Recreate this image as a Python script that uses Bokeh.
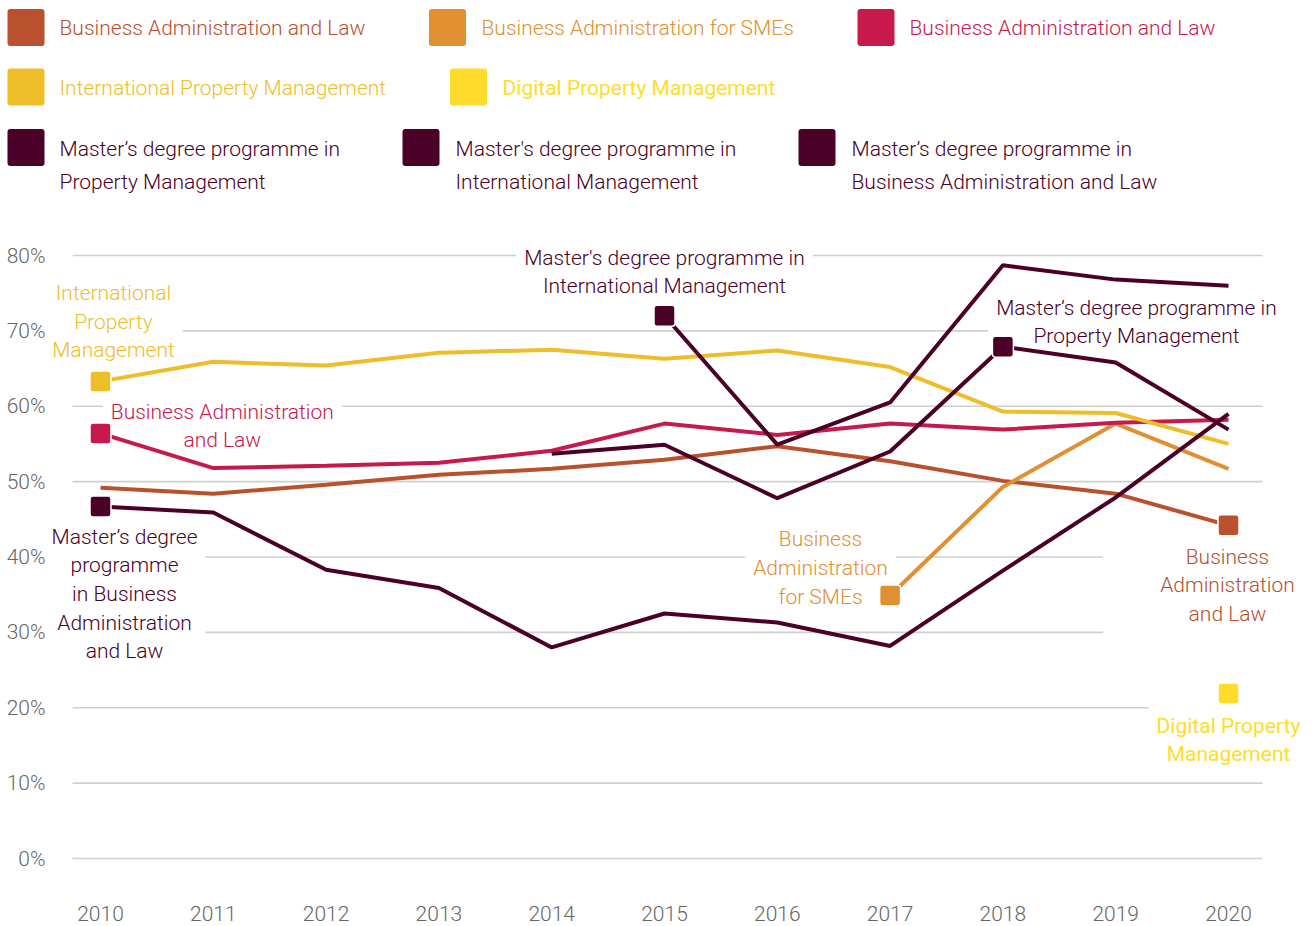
from bokeh.plotting import figure
from bokeh.models import Range1d, FixedTicker, PrintfTickFormatter
from bokeh.layouts import column
from bokeh.core.properties import value
from bokeh.embed import file_html
from bokeh.resources import INLINE

NaN = float("nan")

# ---------------- data ----------------
years = [2010, 2011, 2012, 2013, 2014, 2015, 2016, 2017, 2018, 2019, 2020]
ba_law = [49.2, 48.4, 49.6, 50.9, 51.7, 52.9, 54.7, 52.7, 50.1, 48.4, 44.2]
ba_smes = [NaN, NaN, NaN, NaN, NaN, NaN, NaN, 34.9, 49.3, 57.7, 51.7]
ba_law2 = [56.4, 51.8, 52.1, 52.5, 54.1, 57.7, 56.2, 57.7, 56.9, 57.8, 58.2]
int_prop = [63.3, 65.9, 65.4, 67.1, 67.5, 66.3, 67.4, 65.2, 59.3, 59.1, 55.0]
dig_prop = [NaN, NaN, NaN, NaN, NaN, NaN, NaN, NaN, NaN, NaN, 21.9]
ma_prop = [NaN, NaN, NaN, NaN, 53.7, 54.9, 47.8, 54.0, 67.9, 65.8, 56.9]
ma_intl = [NaN, NaN, NaN, NaN, NaN, 72.0, 54.9, 60.5, 78.7, 76.8, 76.0]
ma_bal = [46.7, 45.9, 38.3, 35.9, 28.0, 32.5, 31.3, 28.2, 38.2, 47.9, 59.0]

y_ticks = [0, 10, 20, 30, 40, 50, 60, 70, 80]

legend_names = [
    "Business Administration and Law",
    "Business Administration for SMEs",
    "Business Administration and Law",
    "International Property Management",
    "Digital Property Management",
    "Master\u2019s degree programme in\nProperty Management",
    "Master's degree programme in\nInternational Management",
    "Master\u2019s degree programme in\nBusiness Administration and Law",
]

# ---------------- styles ----------------
FONT = "Roboto Light"
FONT_REG = "Roboto"
RUST = "#B9502E"
ORANGE = "#E08F31"
CRIMSON = "#C8194C"
YELLOW = "#EDBD2A"
DIGITAL = "#FFDC2B"
DARK = "#4B0027"
AXIS_TXT = "#666666"

series = [
    # values, colour, marker year
    (ba_law, RUST, 2020),
    (ba_smes, ORANGE, 2017),
    (ba_law2, CRIMSON, 2010),
    (int_prop, YELLOW, 2010),
    (dig_prop, DIGITAL, 2020),
    (ma_prop, DARK, 2018),
    (ma_intl, DARK, 2015),
    (ma_bal, DARK, 2010),
]

W = 1315
TOP_H = 230
TOTAL_H = 926
LEFT = 52

# ---------------- legend figure (screen-pixel coordinates) ----------------
lg = figure(width=W, height=TOP_H, x_range=Range1d(0, W), y_range=Range1d(TOP_H, 0),
            output_backend="svg", toolbar_location=None, x_axis_type=None, y_axis_type=None,
            min_border=0, min_border_left=0, min_border_right=0, min_border_top=0,
            min_border_bottom=0, outline_line_color=None, frame_align=False)
lg.xgrid.visible = False
lg.ygrid.visible = False

legend_layout = [
    # square centre x, centre y, text x, text y
    (25.5, 27, 59, 27),
    (447, 27, 481, 27),
    (875.5, 27, 909, 27),
    (25.5, 86.5, 59, 87),
    (468, 86.5, 502, 87),
    (25.5, 147, 59, 165),
    (420.5, 147, 455, 165),
    (816.5, 147, 851, 165),
]
legend_colors = [RUST, ORANGE, CRIMSON, YELLOW, DIGITAL, DARK, DARK, DARK]
legend_fonts = [FONT, FONT, FONT, FONT, FONT_REG, FONT, FONT, FONT]
for (sx, sy, tx, ty), name, col, fnt in zip(legend_layout, legend_names, legend_colors, legend_fonts):
    lg.rect(x=[sx], y=[sy], width=37, height=37, fill_color=col, line_color=None,
            border_radius=3)
    lg.text(x=[tx], y=[ty], text=[name], text_font=value(fnt), text_font_size="21px",
            text_color=col, text_baseline="middle", text_align="left",
            text_line_height=1.41)

# ---------------- chart figure ----------------
px_per_year = 112.8
px_per_pct = 7.5375
frame_bottom = 860
x_start = 2010 - (100 - LEFT) / px_per_year
x_end = x_start + (W - LEFT) / px_per_year
y_end = 80 + (255 - TOP_H) / px_per_pct
y_start = -(frame_bottom - 858) / px_per_pct

p = figure(width=W, height=TOTAL_H - TOP_H, x_range=Range1d(x_start, x_end),
           y_range=Range1d(y_start, y_end),
           output_backend="svg", toolbar_location=None,
           min_border_left=LEFT, min_border_right=0, min_border_top=0,
           min_border_bottom=TOTAL_H - frame_bottom,
           outline_line_color=None, frame_align=False)
p.xgrid.visible = False
p.ygrid.visible = False

p.yaxis.ticker = FixedTicker(ticks=y_ticks)
p.yaxis.formatter = PrintfTickFormatter(format="%d%%")
p.xaxis.ticker = FixedTicker(ticks=years)
p.xaxis.formatter = PrintfTickFormatter(format="%d")
for ax in (p.xaxis, p.yaxis):
    ax.axis_line_color = None
    ax.major_tick_line_color = None
    ax.minor_tick_line_color = None
    ax.major_tick_out = 0
    ax.major_tick_in = 0
    ax.minor_tick_out = 0
    ax.axis_label_standoff = 0
    ax.major_label_text_font = FONT
    ax.major_label_text_color = AXIS_TXT
    ax.major_label_text_font_size = "21px"
p.yaxis.major_label_standoff = 7
p.xaxis.major_label_standoff = 45

# grid lines
gx0 = 2010 - 28 / px_per_year
gx1 = 2010 + 1162 / px_per_year
p.segment(x0=[gx0] * len(y_ticks), y0=y_ticks, x1=[gx1] * len(y_ticks), y1=y_ticks,
          line_color="#cfcfcf", line_width=1.6)

# direct labels (text with white background, drawn under the lines)
# each: text, colour, font, centre x (year), centre y (%), extra left padding (px)
labels = [
    ("International\nProperty\nManagement", YELLOW, FONT, 2010.115, 71.24, 0),
    ("Business Administration\nand Law", CRIMSON, FONT, 2011.08, 57.38, 0),
    ("Master\u2019s degree\nprogramme\nin Business\nAdministration\nand Law", DARK, FONT, 2010.213, 35.09, 0),
    ("Master's degree programme in\nInternational Management", DARK, FONT, 2015.0, 77.81, 0),
    ("Master\u2019s degree programme in\nProperty Management", DARK, FONT, 2019.184, 71.18, 0),
    ("Business\nAdministration\nfor SMEs", ORANGE, FONT, 2016.383, 38.54, 0),
    ("Business\nAdministration\nand Law", RUST, FONT, 2019.991, 36.22, 49),
    ("Digital Property\nManagement", DIGITAL, FONT_REG, 2020.0, 15.72, 0),
]
for txt, col, fnt, lx, ly, extra in labels:
    pd = dict(left=8 + extra, right=8, top=8, bottom=8)
    p.text(x=[lx], y=[ly], text=[txt], text_font=value(fnt), text_font_size="21px",
           text_color=col, text_align="center", text_baseline="middle",
           text_line_height=1.19, background_fill_color="white", padding=pd,
           x_offset=-extra / 2)

# lines
for vals, col, _ in series:
    p.line(years, vals, line_color=col, line_width=4)

# markers
for vals, col, my in series:
    i = years.index(my)
    p.rect(x=[years[i]], y=[vals[i]], width=21, height=21, width_units="screen",
           height_units="screen", fill_color=col, line_color="white", line_width=1.5,
           border_radius=3)

layout = column(lg, p)
open("out.html", "w").write(file_html(layout, INLINE))
